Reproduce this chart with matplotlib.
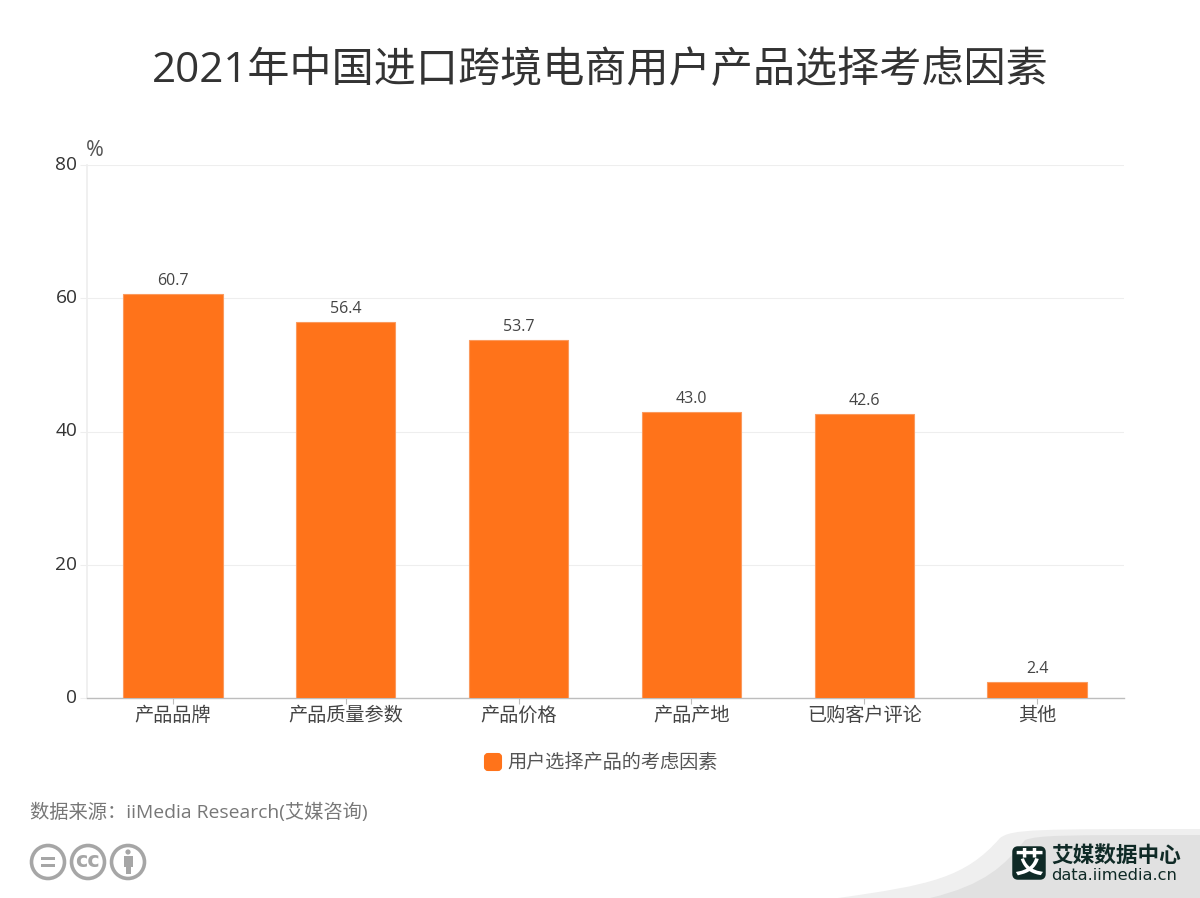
import matplotlib
matplotlib.use('Agg')
import matplotlib.pyplot as plt
from matplotlib.patches import Circle, FancyBboxPatch, PathPatch, Rectangle
from matplotlib.path import Path

plt.rcParams['font.family'] = ['Open Sans', 'Noto Sans CJK SC', 'DejaVu Sans']

title = '2021年中国进口跨境电商用户产品选择考虑因素'
categories = ['产品品牌', '产品质量参数', '产品价格', '产品产地', '已购客户评论', '其他']
values = [60.7, 56.4, 53.7, 43.0, 42.6, 2.4]
yticks = [0, 20, 40, 60, 80]
series_name = '用户选择产品的考虑因素'
source = '数据来源：iiMedia Research(艾媒咨询)'

W, H = 1200, 898
fig = plt.figure(figsize=(12, 8.98), dpi=100)

# overlay in pixel coords for the footer decorations
bg = fig.add_axes([0, 0, 1, 1], zorder=0)
bg.set_xlim(0, W)
bg.set_ylim(H, 0)
bg.axis('off')

# footer swoosh
swoosh1 = Path([(838, 898), (930, 885), (965, 878), (1000, 838), (1012, 829), (1035, 829),
                (1200, 829), (1200, 898), (838, 898)],
               [1, 4, 4, 4, 4, 4, 2, 2, 79])
bg.add_patch(PathPatch(swoosh1, fc='#efefef', ec='none'))
swoosh2 = Path([(930, 898), (985, 885), (1005, 865), (1025, 840), (1040, 835), (1060, 835),
                (1200, 835), (1200, 898), (930, 898)],
               [1, 4, 4, 4, 4, 4, 2, 2, 79])
bg.add_patch(PathPatch(swoosh2, fc='#e1e1e1', ec='none'))

# logo
bg.add_patch(FancyBboxPatch((1014, 848), 30, 30, boxstyle='round,pad=0,rounding_size=4',
                            fc='#0f2a26', ec='#0f2a26', lw=2.5, joinstyle='round'))
bg.text(1029, 865, '艾', color='white', fontsize=21, fontweight='bold', ha='center', va='center')
bg.text(1051, 856, '艾媒数据中心', color='#0f2a26', fontsize=15.6, fontweight='bold', ha='left', va='center')
bg.text(1051, 875, 'data.iimedia.cn', color='#0f2a26', fontsize=11.7, ha='left', va='center',
        family='DejaVu Sans')

# licence icons
grey = '#a6a6a6'
for cx in (48, 88, 128):
    bg.add_patch(Circle((cx, 862), 16.5, fc='white', ec=grey, lw=2.6))
bg.add_patch(Rectangle((41, 856.5), 14, 3.2, fc=grey, ec='none'))
bg.add_patch(Rectangle((41, 864), 14, 3.2, fc=grey, ec='none'))
bg.text(88, 861, 'cc', color=grey, fontsize=15, fontweight='bold', ha='center', va='center',
        family='DejaVu Sans')
bg.add_patch(Circle((128, 852), 2.6, fc=grey, ec='none'))
bg.add_patch(Rectangle((123.5, 856), 9, 11, fc=grey, ec='none'))
bg.add_patch(Rectangle((125.5, 866), 5, 8, fc=grey, ec='none'))

# main chart
ax = fig.add_axes([86.5 / W, 1 - 698 / H, (1123.5 - 86.5) / W, (698 - 165) / H], zorder=1)
ax.patch.set_alpha(0)
x = list(range(len(categories)))
ax.bar(x, values, width=0.575, color='#ff731a', edgecolor='#fb9a5e', linewidth=0.8,
       zorder=3, label=series_name)
for xi, v in zip(x, values):
    ax.annotate('%.1f' % v, (xi, v), xytext=(0, 5), textcoords='offset pixels',
                ha='center', va='bottom', fontsize=11.5, color='#444444', zorder=4)

ax.set_xlim(-0.5, len(categories) - 0.5)
ax.set_ylim(0, 80)
ax.set_yticks(yticks)
ax.set_xticks(x)
ax.set_xticklabels(categories, fontsize=13.8, color='#444444')
ax.tick_params(axis='x', length=4, width=0.8, color='#bdbdbd', pad=2)
ax.tick_params(axis='y', length=5, width=0.8, color='#eeeeee', labelsize=13.8,
               labelcolor='#333333', pad=1.5)
for lab in ax.get_yticklabels():
    lab.set_verticalalignment('center')
ax.yaxis.grid(True, color='#eeeeee', lw=0.8, zorder=0)
ax.xaxis.grid(False)
for s in ('top', 'right'):
    ax.spines[s].set_visible(False)
ax.spines['left'].set_color('#eeeeee')
ax.spines['left'].set_linewidth(1.2)
ax.spines['bottom'].set_color('#bdbdbd')
ax.spines['bottom'].set_linewidth(1)
ax.annotate('%', (0, 1), xycoords='axes fraction', xytext=(-1, 4), textcoords='offset pixels',
            fontsize=15.5, color='#555555', ha='left', va='bottom')

# texts
fig.text(600 / W, 1 - 71 / H, title, fontsize=30.3, color='#333333', ha='center', va='center')
bg.add_patch(FancyBboxPatch((485, 754), 16, 16, boxstyle='round,pad=0,rounding_size=3',
                            fc='#ff731a', ec='#ff731a', lw=1.5))
fig.text(507 / W, 1 - 763 / H, series_name, fontsize=13.8, color='#555555', ha='left', va='center')
fig.text(30 / W, 1 - 812 / H, source, fontsize=13.9, color='#777777', ha='left', va='center')

fig.savefig('out.png', dpi=100)
